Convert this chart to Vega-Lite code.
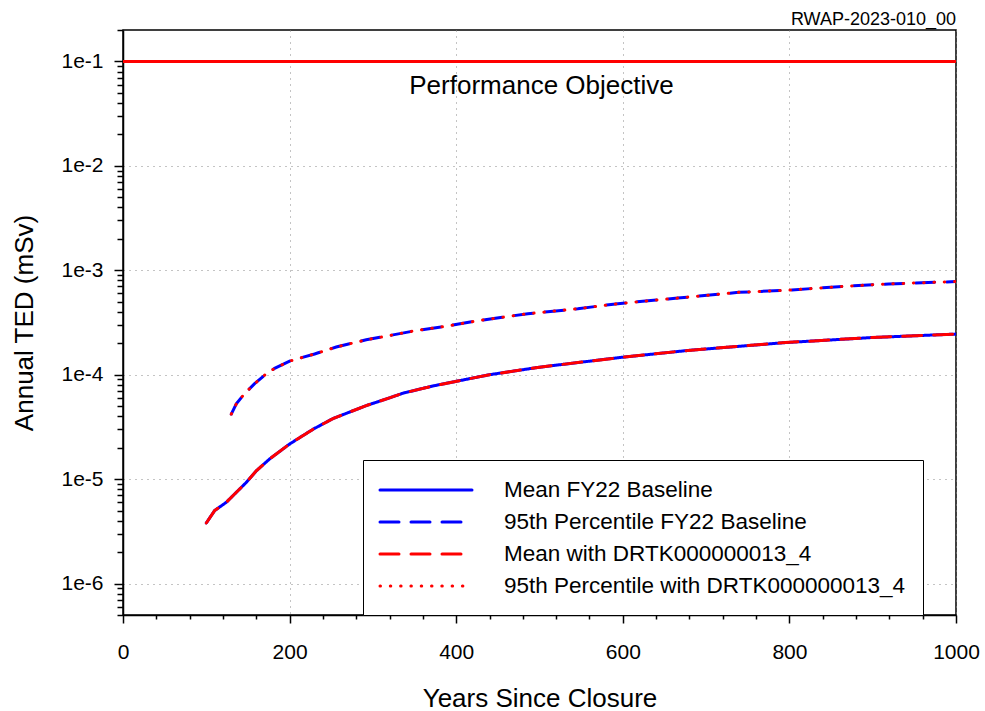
{
  "$schema": "https://vega.github.io/schema/vega-lite/v6.json",
  "width": 833,
  "height": 585,
  "autosize": "none",
  "padding": {"left": 123, "top": 30, "right": 29, "bottom": 96},
  "background": "white",
  "config": {
    "font": "Liberation Sans",
    "view": {"stroke": "black", "strokeWidth": 1.5},
    "axis": {
      "labelColor": "black",
      "titleColor": "black",
      "tickColor": "black",
      "domainColor": "black",
      "tickWidth": 1.5,
      "domainWidth": 1.5,
      "labelFontSize": 21,
      "titleFontSize": 26,
      "titleFontWeight": "normal",
      "labelFlush": false,
      "labelOverlap": false
    }
  },
  "title": {
    "text": "RWAP-2023-010_00",
    "anchor": "end",
    "frame": "group",
    "fontSize": 18,
    "fontWeight": "normal",
    "color": "black",
    "offset": 0
  },
  "datasets": {
    "curves": [
      {"year": 100, "ted": 3.8e-6, "series": "Mean FY22 Baseline"},
      {"year": 110, "ted": 5.0e-6, "series": "Mean FY22 Baseline"},
      {"year": 124, "ted": 6.0e-6, "series": "Mean FY22 Baseline"},
      {"year": 134, "ted": 7.2e-6, "series": "Mean FY22 Baseline"},
      {"year": 148, "ted": 9.3e-6, "series": "Mean FY22 Baseline"},
      {"year": 160, "ted": 1.2e-5, "series": "Mean FY22 Baseline"},
      {"year": 176, "ted": 1.56e-5, "series": "Mean FY22 Baseline"},
      {"year": 200, "ted": 2.17e-5, "series": "Mean FY22 Baseline"},
      {"year": 228, "ted": 3.0e-5, "series": "Mean FY22 Baseline"},
      {"year": 252, "ted": 3.8e-5, "series": "Mean FY22 Baseline"},
      {"year": 292, "ted": 5.06e-5, "series": "Mean FY22 Baseline"},
      {"year": 320, "ted": 6.0e-5, "series": "Mean FY22 Baseline"},
      {"year": 336, "ted": 6.65e-5, "series": "Mean FY22 Baseline"},
      {"year": 372, "ted": 7.8e-5, "series": "Mean FY22 Baseline"},
      {"year": 440, "ted": 1.0e-4, "series": "Mean FY22 Baseline"},
      {"year": 500, "ted": 1.18e-4, "series": "Mean FY22 Baseline"},
      {"year": 596, "ted": 1.46e-4, "series": "Mean FY22 Baseline"},
      {"year": 679, "ted": 1.71e-4, "series": "Mean FY22 Baseline"},
      {"year": 795, "ted": 2.03e-4, "series": "Mean FY22 Baseline"},
      {"year": 899, "ted": 2.27e-4, "series": "Mean FY22 Baseline"},
      {"year": 1000, "ted": 2.45e-4, "series": "Mean FY22 Baseline"},
      {"year": 130, "ted": 4.2e-5, "series": "95th Percentile FY22 Baseline"},
      {"year": 136, "ted": 5.25e-5, "series": "95th Percentile FY22 Baseline"},
      {"year": 146, "ted": 6.6e-5, "series": "95th Percentile FY22 Baseline"},
      {"year": 158, "ted": 8.2e-5, "series": "95th Percentile FY22 Baseline"},
      {"year": 170, "ted": 9.9e-5, "series": "95th Percentile FY22 Baseline"},
      {"year": 182, "ted": 1.15e-4, "series": "95th Percentile FY22 Baseline"},
      {"year": 200, "ted": 1.35e-4, "series": "95th Percentile FY22 Baseline"},
      {"year": 230, "ted": 1.58e-4, "series": "95th Percentile FY22 Baseline"},
      {"year": 256, "ted": 1.84e-4, "series": "95th Percentile FY22 Baseline"},
      {"year": 292, "ted": 2.16e-4, "series": "95th Percentile FY22 Baseline"},
      {"year": 316, "ted": 2.34e-4, "series": "95th Percentile FY22 Baseline"},
      {"year": 352, "ted": 2.65e-4, "series": "95th Percentile FY22 Baseline"},
      {"year": 390, "ted": 2.93e-4, "series": "95th Percentile FY22 Baseline"},
      {"year": 426, "ted": 3.29e-4, "series": "95th Percentile FY22 Baseline"},
      {"year": 486, "ted": 3.84e-4, "series": "95th Percentile FY22 Baseline"},
      {"year": 546, "ted": 4.28e-4, "series": "95th Percentile FY22 Baseline"},
      {"year": 594, "ted": 4.79e-4, "series": "95th Percentile FY22 Baseline"},
      {"year": 666, "ted": 5.42e-4, "series": "95th Percentile FY22 Baseline"},
      {"year": 739, "ted": 6.15e-4, "series": "95th Percentile FY22 Baseline"},
      {"year": 797, "ted": 6.43e-4, "series": "95th Percentile FY22 Baseline"},
      {"year": 859, "ted": 6.97e-4, "series": "95th Percentile FY22 Baseline"},
      {"year": 919, "ted": 7.4e-4, "series": "95th Percentile FY22 Baseline"},
      {"year": 1000, "ted": 7.8e-4, "series": "95th Percentile FY22 Baseline"},
      {"year": 100, "ted": 3.8e-6, "series": "Mean with DRTK000000013_4"},
      {"year": 110, "ted": 5.0e-6, "series": "Mean with DRTK000000013_4"},
      {"year": 124, "ted": 6.0e-6, "series": "Mean with DRTK000000013_4"},
      {"year": 134, "ted": 7.2e-6, "series": "Mean with DRTK000000013_4"},
      {"year": 148, "ted": 9.3e-6, "series": "Mean with DRTK000000013_4"},
      {"year": 160, "ted": 1.2e-5, "series": "Mean with DRTK000000013_4"},
      {"year": 176, "ted": 1.56e-5, "series": "Mean with DRTK000000013_4"},
      {"year": 200, "ted": 2.17e-5, "series": "Mean with DRTK000000013_4"},
      {"year": 228, "ted": 3.0e-5, "series": "Mean with DRTK000000013_4"},
      {"year": 252, "ted": 3.8e-5, "series": "Mean with DRTK000000013_4"},
      {"year": 292, "ted": 5.06e-5, "series": "Mean with DRTK000000013_4"},
      {"year": 320, "ted": 6.0e-5, "series": "Mean with DRTK000000013_4"},
      {"year": 336, "ted": 6.65e-5, "series": "Mean with DRTK000000013_4"},
      {"year": 372, "ted": 7.8e-5, "series": "Mean with DRTK000000013_4"},
      {"year": 440, "ted": 1.0e-4, "series": "Mean with DRTK000000013_4"},
      {"year": 500, "ted": 1.18e-4, "series": "Mean with DRTK000000013_4"},
      {"year": 596, "ted": 1.46e-4, "series": "Mean with DRTK000000013_4"},
      {"year": 679, "ted": 1.71e-4, "series": "Mean with DRTK000000013_4"},
      {"year": 795, "ted": 2.03e-4, "series": "Mean with DRTK000000013_4"},
      {"year": 899, "ted": 2.27e-4, "series": "Mean with DRTK000000013_4"},
      {"year": 1000, "ted": 2.45e-4, "series": "Mean with DRTK000000013_4"},
      {"year": 130, "ted": 4.2e-5, "series": "95th Percentile with DRTK000000013_4"},
      {"year": 136, "ted": 5.25e-5, "series": "95th Percentile with DRTK000000013_4"},
      {"year": 146, "ted": 6.6e-5, "series": "95th Percentile with DRTK000000013_4"},
      {"year": 158, "ted": 8.2e-5, "series": "95th Percentile with DRTK000000013_4"},
      {"year": 170, "ted": 9.9e-5, "series": "95th Percentile with DRTK000000013_4"},
      {"year": 182, "ted": 1.15e-4, "series": "95th Percentile with DRTK000000013_4"},
      {"year": 200, "ted": 1.35e-4, "series": "95th Percentile with DRTK000000013_4"},
      {"year": 230, "ted": 1.58e-4, "series": "95th Percentile with DRTK000000013_4"},
      {"year": 256, "ted": 1.84e-4, "series": "95th Percentile with DRTK000000013_4"},
      {"year": 292, "ted": 2.16e-4, "series": "95th Percentile with DRTK000000013_4"},
      {"year": 316, "ted": 2.34e-4, "series": "95th Percentile with DRTK000000013_4"},
      {"year": 352, "ted": 2.65e-4, "series": "95th Percentile with DRTK000000013_4"},
      {"year": 390, "ted": 2.93e-4, "series": "95th Percentile with DRTK000000013_4"},
      {"year": 426, "ted": 3.29e-4, "series": "95th Percentile with DRTK000000013_4"},
      {"year": 486, "ted": 3.84e-4, "series": "95th Percentile with DRTK000000013_4"},
      {"year": 546, "ted": 4.28e-4, "series": "95th Percentile with DRTK000000013_4"},
      {"year": 594, "ted": 4.79e-4, "series": "95th Percentile with DRTK000000013_4"},
      {"year": 666, "ted": 5.42e-4, "series": "95th Percentile with DRTK000000013_4"},
      {"year": 739, "ted": 6.15e-4, "series": "95th Percentile with DRTK000000013_4"},
      {"year": 797, "ted": 6.43e-4, "series": "95th Percentile with DRTK000000013_4"},
      {"year": 859, "ted": 6.97e-4, "series": "95th Percentile with DRTK000000013_4"},
      {"year": 919, "ted": 7.4e-4, "series": "95th Percentile with DRTK000000013_4"},
      {"year": 1000, "ted": 7.8e-4, "series": "95th Percentile with DRTK000000013_4"}
    ],
    "objective": [
      {"year": 500, "ted": 0.1, "label": "Performance Objective"}
    ]
  },
  "resolve": {"axis": {"x": "independent", "y": "independent"}},
  "layer": [
    {
      "data": {"name": "curves"},
      "mark": {"type": "line", "strokeCap": "round", "clip": true},
      "encoding": {
        "x": {
          "field": "year",
          "type": "quantitative",
          "scale": {"domain": [0, 1000], "nice": false},
          "axis": {
            "orient": "bottom",
            "values": [0, 200, 400, 600, 800, 1000],
            "format": "d",
            "title": "Years Since Closure",
            "titlePadding": 23,
            "labelPadding": 18,
            "tickSize": 8,
            "grid": true,
            "gridDash": [1, 5],
            "gridColor": "#888888"
          }
        },
        "y": {
          "field": "ted",
          "type": "quantitative",
          "scale": {"type": "log", "domain": [5e-7, 0.2], "nice": false},
          "axis": {
            "orient": "left",
            "values": [1e-6, 1e-5, 1e-4, 1e-3, 1e-2, 1e-1],
            "labelExpr": "'1e' + round(log(datum.value) / LN10)",
            "title": "Annual TED (mSv)",
            "titlePadding": 23,
            "labelPadding": 11,
            "tickSize": 9,
            "grid": true,
            "gridDash": [1, 5],
            "gridColor": "#888888"
          }
        },
        "color": {
          "field": "series",
          "type": "nominal",
          "scale": {
            "domain": ["Mean FY22 Baseline", "95th Percentile FY22 Baseline", "Mean with DRTK000000013_4", "95th Percentile with DRTK000000013_4"],
            "range": ["#0000ff", "#0000ff", "#ff0000", "#ff0000"]
          },
          "legend": {
            "orient": "none",
            "legendX": 240,
            "legendY": 430,
            "title": null,
            "strokeColor": "black",
            "fillColor": "white",
            "padding": 17,
            "labelFontSize": 22.5,
            "labelColor": "black",
            "labelLimit": 0,
            "symbolType": "M-4,0H4",
            "symbolSize": 529,
            "symbolStrokeWidth": 3,
            "symbolOffset": 33,
            "labelOffset": 65,
            "rowPadding": 7,
            "encode": {
              "symbols": {"update": {"strokeCap": {"value": "round"}}}
            }
          }
        },
        "strokeDash": {
          "field": "series",
          "type": "nominal",
          "scale": {
            "domain": ["Mean FY22 Baseline", "95th Percentile FY22 Baseline", "Mean with DRTK000000013_4", "95th Percentile with DRTK000000013_4"],
            "range": [[1, 0], [19, 12], [19, 12], [0.5, 9.8]]
          }
        },
        "strokeWidth": {
          "field": "series",
          "type": "nominal",
          "scale": {
            "domain": ["Mean FY22 Baseline", "95th Percentile FY22 Baseline", "Mean with DRTK000000013_4", "95th Percentile with DRTK000000013_4"],
            "range": [3, 3, 3, 4.8]
          }
        }
      }
    },
    {
      "data": {"name": "objective"},
      "mark": {"type": "rule", "color": "#ff0000", "strokeWidth": 3},
      "encoding": {
        "y": {"field": "ted", "type": "quantitative", "axis": null}
      }
    },
    {
      "data": {"name": "objective"},
      "mark": {"type": "text", "fontSize": 26, "dy": 33, "dx": 2, "baseline": "alphabetic", "align": "center", "color": "black"},
      "encoding": {
        "x": {
          "field": "year",
          "type": "quantitative",
          "axis": {
            "orient": "bottom",
            "values": [40, 80, 120, 160, 240, 280, 320, 360, 440, 480, 520, 560, 640, 680, 720, 760, 840, 880, 920, 960],
            "labels": false,
            "domain": false,
            "grid": false,
            "title": null,
            "tickSize": 4
          }
        },
        "y": {
          "field": "ted",
          "type": "quantitative",
          "axis": {
            "orient": "left",
            "values": [5e-7, 6e-7, 7e-7, 8e-7, 9e-7, 2e-6, 3e-6, 4e-6, 5e-6, 6e-6, 7e-6, 8e-6, 9e-6, 2e-5, 3e-5, 4e-5, 5e-5, 6e-5, 7e-5, 8e-5, 9e-5, 2e-4, 3e-4, 4e-4, 5e-4, 6e-4, 7e-4, 8e-4, 9e-4, 2e-3, 3e-3, 4e-3, 5e-3, 6e-3, 7e-3, 8e-3, 9e-3, 2e-2, 3e-2, 4e-2, 5e-2, 6e-2, 7e-2, 8e-2, 9e-2, 2e-1],
            "labels": false,
            "domain": false,
            "grid": false,
            "title": null,
            "tickSize": 6
          }
        },
        "text": {"field": "label"}
      }
    }
  ]
}
